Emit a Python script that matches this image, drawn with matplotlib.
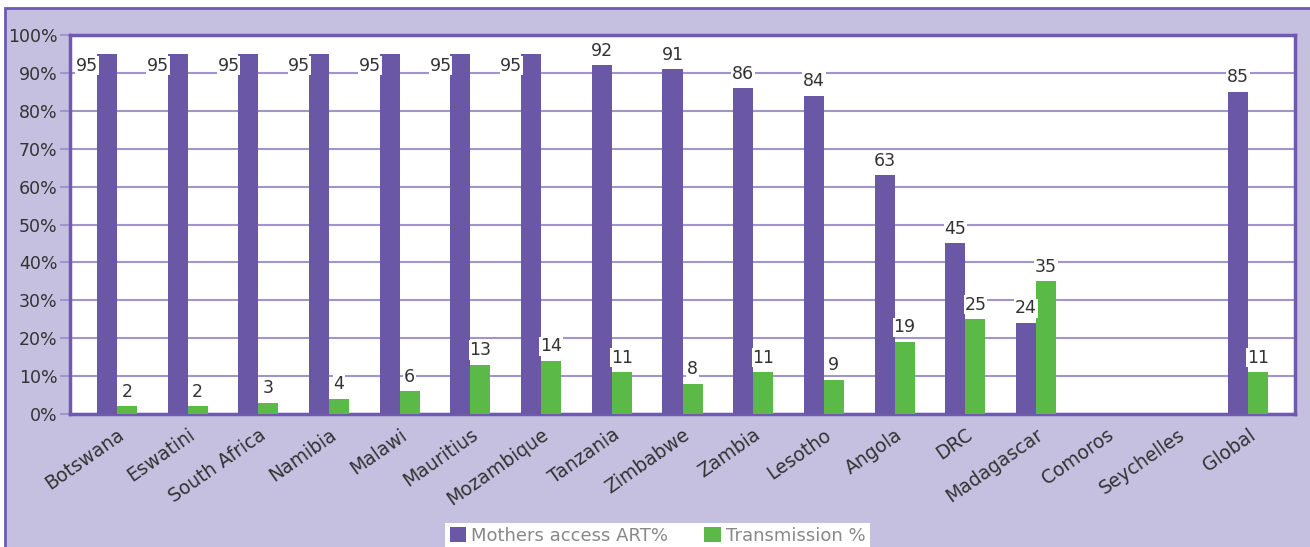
import numpy as np
import matplotlib
matplotlib.use('Agg')
import matplotlib.pyplot as plt
from matplotlib.patches import Rectangle
from matplotlib.ticker import PercentFormatter

countries = ['Botswana', 'Eswatini', 'South Africa', 'Namibia', 'Malawi',
             'Mauritius', 'Mozambique', 'Tanzania', 'Zimbabwe', 'Zambia',
             'Lesotho', 'Angola', 'DRC', 'Madagascar', 'Comoros',
             'Seychelles', 'Global']
art_access = [95, 95, 95, 95, 95, 95, 95, 92, 91, 86, 84, 63, 45, 24,
              np.nan, np.nan, 85]
transmission = [2, 2, 3, 4, 6, 13, 14, 11, 8, 11, 9, 19, 25, 35,
                np.nan, np.nan, 11]

purple = '#6A58A6'
green = '#5BB947'
lavender = '#C5C0DF'
edge = '#6E5BB0'
grid_c = '#A295CB'
text_c = '#333333'

fig = plt.figure(figsize=(13.10, 5.47), dpi=100, facecolor='white')
fig.patches.append(Rectangle((5 / 1310, -0.1), 1.2, 1.1 - 8 / 547,
                             transform=fig.transFigure, facecolor=lavender,
                             edgecolor=edge, linewidth=2, zorder=-5))

ax = fig.add_axes([70 / 1310, 1 - 414 / 547, 1225 / 1310, 379 / 547])
ax.set_facecolor('white')

x = np.arange(len(countries))
w = 0.283
b1 = ax.bar(x - w / 2, art_access, w, color=purple, label='Mothers access ART%', zorder=3)
b2 = ax.bar(x + w / 2, transmission, w, color=green, label='Transmission %', zorder=3)

box = dict(facecolor='white', edgecolor='none', pad=0.5)
for xi, v in zip(x, art_access):
    if np.isnan(v):
        continue
    if v >= 95:
        ax.annotate(f'{v:.0f}', (xi - w, v), xytext=(1, -2), textcoords='offset points',
                    ha='right', va='top', fontsize=12.5, color=text_c, bbox=box, zorder=4)
    else:
        ax.annotate(f'{v:.0f}', (xi - w / 2, v), xytext=(0, 4), textcoords='offset points',
                    ha='center', va='bottom', fontsize=12.5, color=text_c, bbox=box, zorder=4)
for xi, v in zip(x, transmission):
    if np.isnan(v):
        continue
    ax.annotate(f'{v:.0f}', (xi + w / 2, v), xytext=(0, 4), textcoords='offset points',
                ha='center', va='bottom', fontsize=12.5, color=text_c, bbox=box, zorder=4)

ax.set_ylim(0, 100)
ax.set_yticks(np.arange(0, 101, 10))
ax.yaxis.set_major_formatter(PercentFormatter(decimals=0))
ax.set_xlim(-0.5 - 0.163, len(countries) - 0.5 + 0.163)
ax.set_xticks(x)
ax.set_xticklabels(countries, rotation=35, ha='right', rotation_mode='anchor',
                   fontsize=13.5, color=text_c)
ax.tick_params(axis='x', length=0, pad=8)
ax.tick_params(axis='y', length=7, width=1.5, color=grid_c, labelsize=12.5,
               labelcolor=text_c, pad=2)
ax.grid(axis='y', color=grid_c, linewidth=1.5, zorder=1)
ax.set_axisbelow(True)
for s in ax.spines.values():
    s.set_color(edge)
    s.set_linewidth(2.5)

leg = fig.legend(handles=[b1, b2], loc='lower center', bbox_to_anchor=(0.502, -0.005),
                 ncol=2, fontsize=13, frameon=True, fancybox=False, framealpha=1,
                 handlelength=0.9, handleheight=0.9, handletextpad=0.3,
                 columnspacing=2.0, borderpad=0.25, borderaxespad=0)
leg.get_frame().set_facecolor('white')
leg.get_frame().set_edgecolor('none')
for t in leg.get_texts():
    t.set_color('#888888')

fig.savefig('out.png', dpi=100, facecolor=fig.get_facecolor())
